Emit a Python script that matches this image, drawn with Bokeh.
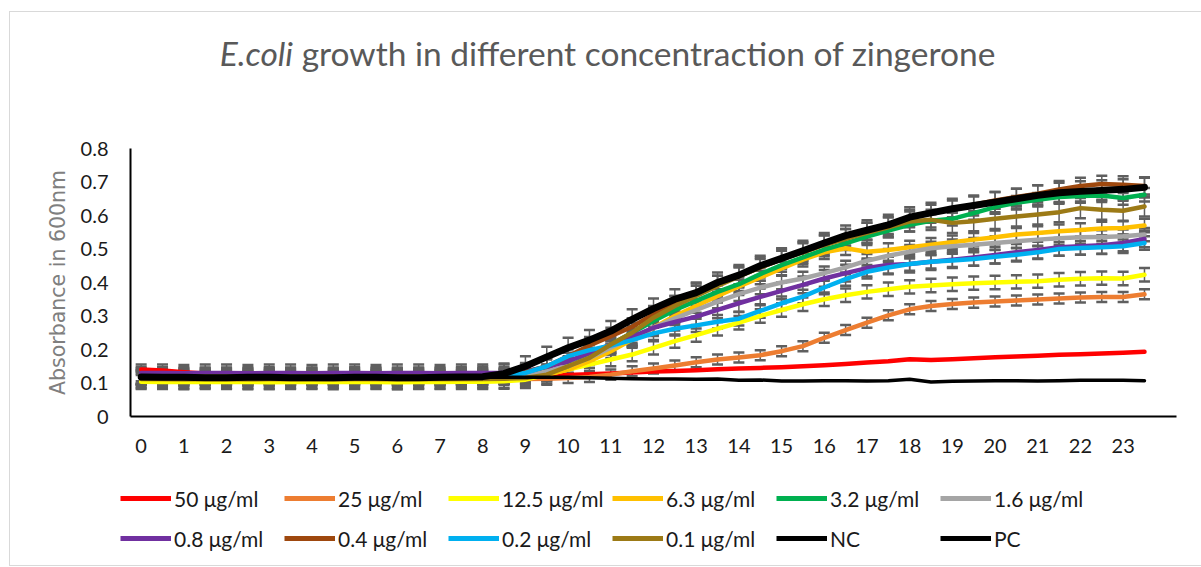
from bokeh.plotting import figure
from bokeh.models import (ColumnDataSource, Legend, LegendItem, Whisker, TeeHead,
                          FixedTicker, Range1d, Div)
from bokeh.layouts import column
from bokeh.embed import file_html
from bokeh.resources import INLINE

# ---------------- data ----------------
hours = [0, 0.5, 1, 1.5, 2, 2.5, 3, 3.5, 4, 4.5, 5, 5.5, 6, 6.5, 7, 7.5, 8,
         8.5, 9, 9.5, 10, 10.5, 11, 11.5, 12, 12.5, 13, 13.5, 14, 14.5, 15, 15.5,
         16, 16.5, 17, 17.5, 18, 18.5, 19, 19.5, 20, 20.5, 21, 21.5, 22, 22.5, 23, 23.5]
hour_ticks = list(range(24))

c50 = [0.140, 0.137, 0.132, 0.128, 0.125, 0.124, 0.124, 0.123, 0.123, 0.122, 0.122, 0.122, 0.121, 0.121, 0.121, 0.120, 0.120,
       0.120, 0.121, 0.122, 0.124, 0.126, 0.128, 0.131, 0.134, 0.136, 0.138, 0.141, 0.143, 0.145, 0.147, 0.150,
       0.153, 0.157, 0.161, 0.165, 0.171, 0.169, 0.171, 0.174, 0.177, 0.179, 0.181, 0.184, 0.186, 0.188, 0.190, 0.193]
c25 = [0.113, 0.112, 0.112, 0.111, 0.112, 0.112, 0.111, 0.111, 0.112, 0.112, 0.111, 0.111, 0.112, 0.112, 0.111, 0.111, 0.112,
       0.112, 0.112, 0.113, 0.115, 0.118, 0.125, 0.135, 0.143, 0.152, 0.162, 0.170, 0.176, 0.183, 0.195, 0.210,
       0.235, 0.258, 0.280, 0.302, 0.320, 0.330, 0.336, 0.340, 0.343, 0.346, 0.349, 0.352, 0.355, 0.357, 0.357, 0.365]
c12_5 = [0.104, 0.103, 0.103, 0.104, 0.103, 0.103, 0.102, 0.103, 0.103, 0.104, 0.103, 0.103, 0.102, 0.103, 0.103, 0.104, 0.104,
         0.105, 0.110, 0.125, 0.140, 0.155, 0.170, 0.185, 0.205, 0.225, 0.243, 0.262, 0.280, 0.300, 0.318, 0.335,
         0.350, 0.362, 0.372, 0.380, 0.387, 0.391, 0.395, 0.398, 0.400, 0.402, 0.404, 0.408, 0.411, 0.413, 0.412, 0.423]
c6_3 = [0.113, 0.112, 0.112, 0.112, 0.111, 0.112, 0.112, 0.111, 0.112, 0.112, 0.112, 0.111, 0.112, 0.112, 0.112, 0.112, 0.113,
        0.114, 0.118, 0.125, 0.140, 0.165, 0.195, 0.230, 0.265, 0.300, 0.330, 0.360, 0.388, 0.415, 0.442, 0.468,
        0.490, 0.502, 0.492, 0.497, 0.505, 0.513, 0.520, 0.528, 0.535, 0.543, 0.548, 0.553, 0.557, 0.561, 0.563, 0.570]
c3_2 = [0.115, 0.115, 0.114, 0.115, 0.115, 0.114, 0.115, 0.115, 0.114, 0.114, 0.115, 0.115, 0.114, 0.115, 0.115, 0.115, 0.116,
        0.118, 0.122, 0.130, 0.150, 0.180, 0.215, 0.250, 0.285, 0.318, 0.345, 0.372, 0.395, 0.425, 0.452, 0.475,
        0.498, 0.517, 0.537, 0.555, 0.572, 0.584, 0.590, 0.607, 0.625, 0.638, 0.647, 0.655, 0.658, 0.660, 0.652, 0.662]
c1_6 = [0.118, 0.118, 0.117, 0.118, 0.118, 0.117, 0.118, 0.118, 0.117, 0.118, 0.118, 0.118, 0.117, 0.118, 0.118, 0.118, 0.119,
        0.120, 0.125, 0.135, 0.150, 0.175, 0.205, 0.235, 0.265, 0.293, 0.318, 0.343, 0.365, 0.385, 0.400, 0.412,
        0.428, 0.445, 0.465, 0.480, 0.492, 0.502, 0.508, 0.513, 0.518, 0.523, 0.528, 0.532, 0.535, 0.536, 0.538, 0.543]
c0_8 = [0.130, 0.130, 0.129, 0.130, 0.130, 0.129, 0.130, 0.130, 0.129, 0.130, 0.130, 0.129, 0.130, 0.130, 0.129, 0.130, 0.130,
        0.130, 0.135, 0.148, 0.165, 0.190, 0.215, 0.238, 0.265, 0.282, 0.298, 0.318, 0.338, 0.357, 0.375, 0.393,
        0.412, 0.428, 0.443, 0.452, 0.455, 0.462, 0.468, 0.475, 0.482, 0.490, 0.497, 0.505, 0.508, 0.511, 0.518, 0.530]
c0_4 = [0.120, 0.120, 0.119, 0.120, 0.120, 0.119, 0.120, 0.120, 0.120, 0.119, 0.120, 0.120, 0.119, 0.120, 0.120, 0.120, 0.120,
        0.122, 0.132, 0.150, 0.180, 0.212, 0.240, 0.268, 0.305, 0.335, 0.372, 0.395, 0.420, 0.445, 0.470, 0.492,
        0.515, 0.535, 0.553, 0.570, 0.592, 0.607, 0.620, 0.632, 0.645, 0.655, 0.665, 0.678, 0.688, 0.694, 0.692, 0.688]
c0_2 = [0.118, 0.118, 0.117, 0.118, 0.118, 0.117, 0.118, 0.118, 0.118, 0.117, 0.118, 0.118, 0.117, 0.118, 0.118, 0.118, 0.119,
        0.122, 0.130, 0.150, 0.180, 0.198, 0.212, 0.228, 0.248, 0.262, 0.272, 0.283, 0.292, 0.315, 0.338, 0.358,
        0.385, 0.410, 0.432, 0.445, 0.455, 0.462, 0.466, 0.470, 0.477, 0.483, 0.490, 0.500, 0.503, 0.505, 0.508, 0.518]
c0_1 = [0.112, 0.112, 0.111, 0.112, 0.112, 0.111, 0.112, 0.112, 0.112, 0.111, 0.112, 0.112, 0.111, 0.112, 0.112, 0.112, 0.112,
        0.113, 0.115, 0.125, 0.150, 0.175, 0.215, 0.250, 0.295, 0.330, 0.360, 0.390, 0.418, 0.445, 0.470, 0.490,
        0.512, 0.530, 0.548, 0.565, 0.582, 0.587, 0.578, 0.583, 0.590, 0.597, 0.603, 0.610, 0.622, 0.617, 0.614, 0.627]
nc = [0.117, 0.117, 0.117, 0.116, 0.117, 0.117, 0.117, 0.116, 0.117, 0.117, 0.117, 0.117, 0.116, 0.117, 0.117, 0.117, 0.117,
      0.117, 0.117, 0.117, 0.117, 0.116, 0.114, 0.113, 0.112, 0.112, 0.111, 0.112, 0.108, 0.109, 0.106, 0.106,
      0.107, 0.107, 0.106, 0.107, 0.111, 0.103, 0.105, 0.106, 0.107, 0.107, 0.106, 0.107, 0.108, 0.108, 0.108, 0.107]
pc = [0.118, 0.117, 0.117, 0.116, 0.116, 0.117, 0.117, 0.116, 0.116, 0.116, 0.117, 0.117, 0.116, 0.116, 0.117, 0.118, 0.119,
      0.128, 0.150, 0.178, 0.205, 0.228, 0.255, 0.290, 0.322, 0.350, 0.370, 0.400, 0.422, 0.450, 0.472, 0.495,
      0.518, 0.540, 0.556, 0.572, 0.595, 0.608, 0.620, 0.630, 0.640, 0.650, 0.660, 0.668, 0.672, 0.675, 0.678, 0.684]

series_labels = ["50 μg/ml", "25 μg/ml", "12.5 μg/ml", "6.3 μg/ml", "3.2 μg/ml", "1.6 μg/ml",
                 "0.8 μg/ml", "0.4 μg/ml", "0.2 μg/ml", "0.1 μg/ml", "NC", "PC"]
series_values = [c50, c25, c12_5, c6_3, c3_2, c1_6, c0_8, c0_4, c0_2, c0_1, nc, pc]
# estimated standard deviation of each series (error bars)
series_errors = [0.0, 0.015, 0.02, 0.02, 0.02, 0.02, 0.025, 0.025, 0.02, 0.03, 0.0, 0.03]

# ---------------- styling ----------------
colors = ["#FF0000", "#ED7D31", "#FFFF00", "#FFC000", "#00B050", "#A5A5A5",
          "#7030A0", "#9E480E", "#00B0F0", "#9C7A16", "#000000", "#000000"]
widths = [4.5, 4.5, 4.5, 4.5, 4.5, 4.5, 4.5, 4.5, 4.5, 4.5, 3.5, 7]

FONT = "Lato"

title = Div(text='<i>E.coli</i> growth in different concentraction of zingerone',
            width=1185, height=88,
            styles={"font-family": "Lato", "font-size": "33.5px", "color": "#595959",
                    "text-align": "center", "line-height": "1.2",
                    "padding-top": "16px", "padding-left": "0px",
                    "box-sizing": "border-box", "background": "white"})

p = figure(frame_width=1046, frame_height=268,
           x_range=Range1d(-0.25, 24.25), y_range=Range1d(0, 0.8),
           output_backend="svg", toolbar_location=None,
           min_border_left=120, min_border_right=19, min_border_top=38, min_border_bottom=50,
           background_fill_color="white", border_fill_color="white",
           outline_line_color=None)
p.frame_align = False
p.xgrid.visible = False
p.ygrid.visible = False

# axes
p.xaxis.ticker = FixedTicker(ticks=hour_ticks)
p.yaxis.ticker = FixedTicker(ticks=[0, 0.1, 0.2, 0.3, 0.4, 0.5, 0.6, 0.7, 0.8])
p.yaxis.major_label_overrides = {0: "0", 0.1: "0.1", 0.2: "0.2", 0.3: "0.3", 0.4: "0.4",
                                 0.5: "0.5", 0.6: "0.6", 0.7: "0.7", 0.8: "0.8"}
for ax in (p.xaxis[0], p.yaxis[0]):
    ax.axis_line_color = "black"
    ax.axis_line_width = 2
    ax.major_tick_line_color = None
    ax.minor_tick_line_color = None
    ax.major_tick_in = 0
    ax.major_tick_out = 0
    ax.major_label_text_font = FONT
    ax.major_label_text_font_size = "20px"
    ax.major_label_text_color = "#1a1a1a"
p.xaxis.major_label_standoff = 22
p.yaxis.major_label_standoff = 22
p.yaxis.axis_label = "Absorbance in 600nm"
p.yaxis.axis_label_text_font = "DejaVu Sans"
p.yaxis.axis_label_text_font_style = "normal"
p.yaxis.axis_label_text_font_size = "20.5px"
p.yaxis.axis_label_text_color = "#7f7f7f"
p.yaxis.axis_label_standoff = 8

# error bars then lines
sources = []
for vals, err, col, lw in zip(series_values, series_errors, colors, widths):
    src = ColumnDataSource(dict(x=hours, y=vals,
                                upper=[v + err for v in vals],
                                lower=[v - err for v in vals]))
    sources.append(src)
    if err > 0:
        w = Whisker(base="x", upper="upper", lower="lower", source=src,
                    line_color="#5f5f5f", line_width=1.5,
                    upper_head=TeeHead(size=11, line_color="#5f5f5f", line_width=2.5),
                    lower_head=TeeHead(size=11, line_color="#5f5f5f", line_width=2.5))
        p.add_layout(w)
    p.line("x", "y", source=src, line_color=col, line_width=lw,
           line_join="round", line_cap="round")

# ---------------- legend strip (own canvas below the chart) ----------------
# same series drawn again, but against a y range that keeps them out of view:
# only their legend entries show.
leg = figure(width=1185, height=99, x_range=Range1d(-0.25, 24.25), y_range=Range1d(10, 11),
             output_backend="svg", toolbar_location=None,
             x_axis_location=None, y_axis_location=None,
             min_border=0, min_border_left=0, min_border_right=0,
             min_border_top=0, min_border_bottom=0,
             background_fill_color="white", border_fill_color="white",
             outline_line_color=None)
leg.frame_align = False
leg.xgrid.visible = False
leg.ygrid.visible = False
leg_renderers = []
for src, col in zip(sources, colors):
    leg_renderers.append(leg.line("x", "y", source=src, line_color=col, line_width=5))
items = [LegendItem(label=lab, renderers=[r]) for lab, r in zip(series_labels, leg_renderers)]
legend = Legend(items=items, orientation="horizontal", ncols=6,
                location=(110, 10), padding=0, margin=0,
                border_line_color=None, background_fill_alpha=0,
                glyph_width=51, glyph_height=34, label_height=34, label_width=104,
                label_standoff=3, spacing=6,
                label_text_font=FONT, label_text_font_size="21px",
                label_text_color="#1a1a1a")
leg.add_layout(legend, "center")

layout = column(title, p, leg, margin=(12, 0, 0, 10),
                styles={"outline": "1px solid #d9d9d9", "background": "white"})

open("out.html", "w").write(file_html(layout, INLINE))
